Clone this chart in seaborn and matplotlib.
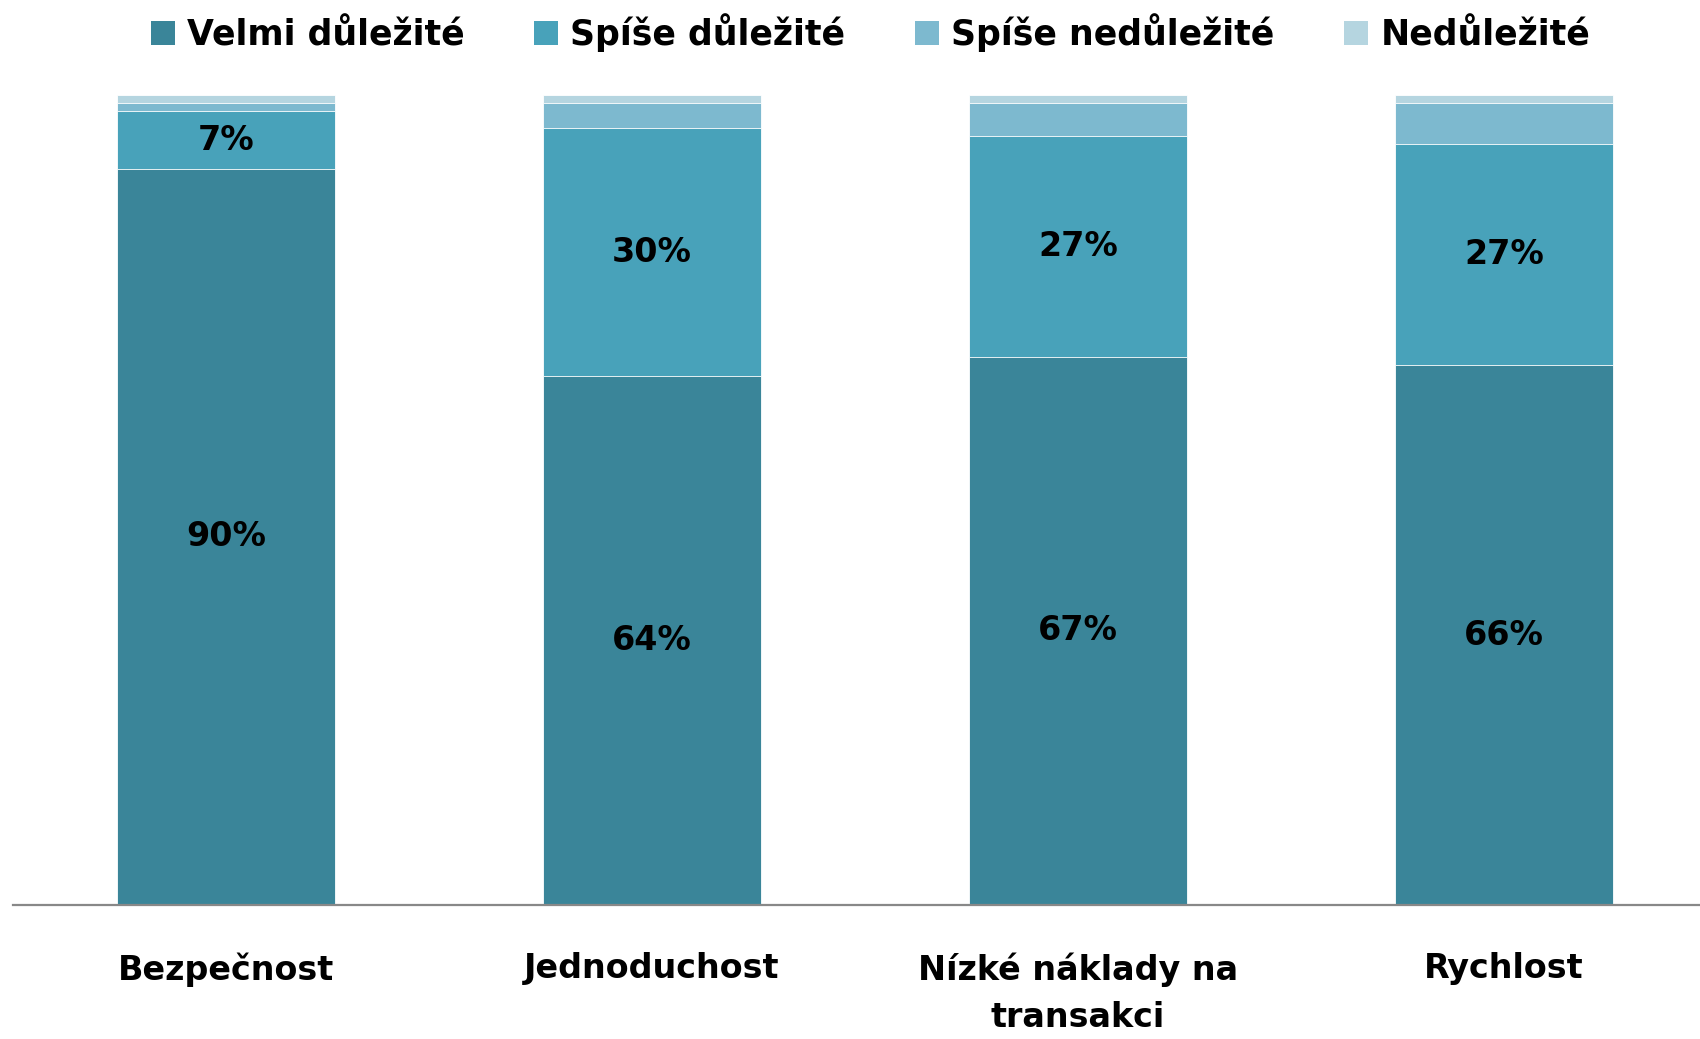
import numpy as np
import pandas as pd
import matplotlib.pyplot as plt
from matplotlib.patches import Patch
import seaborn as sns

categories = ["Bezpečnost", "Jednoduchost", "Nízké náklady na\ntransakci", "Rychlost"]
series = ["Velmi důležité", "Spíše důležité", "Spíše nedůležité", "Nedůležité"]
velmi = [90, 64, 67, 66]
spise = [7, 30, 27, 27]
spise_ne = [1, 3, 4, 5]
ne = [1, 1, 1, 1]
colors = ["#3a8599", "#48a2ba", "#7db9cf", "#b5d5e0"]

sns.set_theme(style="white")
plt.rcParams["font.family"] = ["DejaVu Sans"]
plt.rcParams["font.weight"] = "bold"
plt.rcParams["text.color"] = "black"
plt.rcParams["xtick.color"] = "black"

raw = np.array([velmi, spise, spise_ne, ne], dtype=float).T
shares = raw / raw.sum(axis=1, keepdims=True) * 100
cum = shares.cumsum(axis=1)

fig = plt.figure(figsize=(17, 10.39), dpi=100)
ax = fig.add_axes([13 / 1700, 1 - 905 / 1039, 1687 / 1700, 810 / 1039])

# 100% stacked: draw cumulative totals from the tallest down
for i in reversed(range(len(series))):
    df = pd.DataFrame({"kat": categories, "val": cum[:, i]})
    sns.barplot(data=df, x="kat", y="val", color=colors[i], saturation=1,
                width=0.512, edgecolor="white", linewidth=0.6, ax=ax)

# popisky jen pro první dvě řady
for i in range(2):
    for j in range(len(categories)):
        ax.text(j, cum[j, i] - shares[j, i] / 2, f"{int(raw[j, i])}%",
                ha="center", va="center", fontsize=24, fontweight="bold", color="black")

ax.set_ylim(0, 100)
ax.set_xlim(-0.5, 3.46)
ax.set_xlabel("")
ax.set_ylabel("")
ax.set_yticks([])
for s in ["top", "left", "right"]:
    ax.spines[s].set_visible(False)
ax.spines["bottom"].set_color("#888888")
ax.spines["bottom"].set_linewidth(1.6)
ax.tick_params(axis="x", length=0, pad=34, labelsize=24, labelcolor="black")
for lab in ax.get_xticklabels():
    lab.set_fontweight("bold")
    lab.set_linespacing(1.55)

handles = [Patch(facecolor=c, edgecolor="none") for c in colors]
fig.legend(handles, series, loc="center", bbox_to_anchor=(0.512, 1 - 33 / 1039), ncol=4,
           frameon=False, fontsize=25, handlelength=0.7, handleheight=0.7,
           handletextpad=0.35, columnspacing=2.0, labelcolor="black")

fig.savefig("out.png", dpi=100)
